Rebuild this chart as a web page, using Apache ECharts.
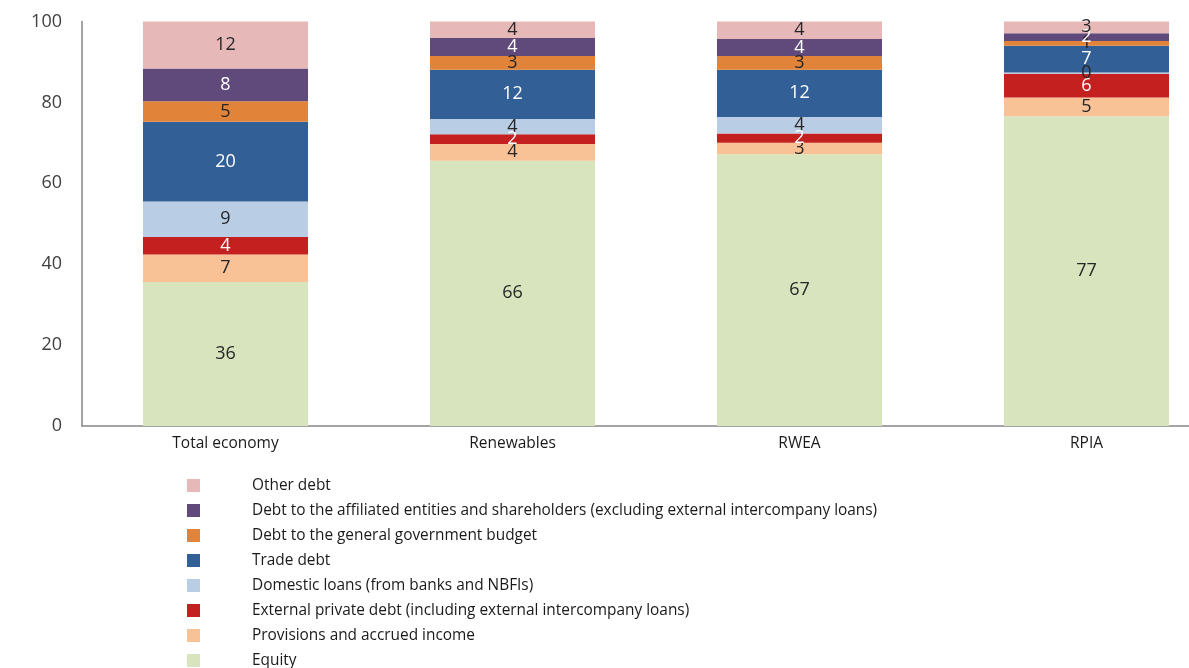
<!DOCTYPE html>
<html lang="en">
<head>
    <meta charset="UTF-8">
    <title>Liability structure</title>
    <script src="https://cdn.jsdelivr.net/npm/echarts@6/dist/echarts.min.js"></script>
    <style>
        html, body { margin: 0; padding: 0; overflow: hidden; background: #fff; }
    </style>
</head>
<body>
    <div id="main" style="width: 1240px;height: 668px"></div>
    <script type="application/javascript">
        // categories
        var categories = ['Total economy', 'Renewables', 'RWEA', 'RPIA'];

        // shares, % (stack order from bottom to top)
        var equity     = [35.6, 65.6, 67.2, 76.6];
        var provisions = [6.8, 4.1, 2.8, 4.6];
        var external   = [4.3, 2.4, 2.3, 5.9];
        var domestic   = [8.8, 3.8, 4.1, 0.3];
        var trade      = [19.7, 12.2, 11.7, 6.6];
        var govBudget  = [5.1, 3.4, 3.4, 1.2];
        var affiliated = [8.1, 4.4, 4.2, 1.9];
        var otherDebt  = [11.6, 4.1, 4.3, 2.9];

        var yTicks = [0, 20, 40, 60, 80, 100];

        var font = '"Open Sans", sans-serif';

        function mk(name, data, color, labelColor) {
            return {
                name: name,
                type: 'bar',
                stack: 'all',
                barWidth: '57.5%',
                data: data,
                itemStyle: { color: color },
                label: {
                    show: true,
                    position: 'inside',
                    color: labelColor,
                    fontSize: 18,
                    fontFamily: font,
                    formatter: function (p) { return Math.round(p.value); }
                }
            };
        }

        var series = [
            mk('Equity', equity, '#d7e4bd', '#262626'),
            mk('Provisions and accrued income', provisions, '#f9c196', '#262626'),
            mk('External private debt (including external intercompany loans)', external, '#c3201f', '#ffffff'),
            mk('Domestic loans (from banks and NBFIs)', domestic, '#b9cde5', '#262626'),
            mk('Trade debt', trade, '#325f95', '#ffffff'),
            mk('Debt to the general government budget', govBudget, '#e1843a', '#262626'),
            mk('Debt to the affiliated entities and shareholders (excluding external intercompany loans)', affiliated, '#604a7b', '#ffffff'),
            mk('Other debt', otherDebt, '#e6b9b8', '#262626')
        ];

        var legendNames = series.map(function (s) { return s.name; }).reverse();

        var myChart = echarts.init(document.getElementById("main"));
        var option = {
            animation: false,
            legend: {
                orient: 'vertical',
                left: 187,
                top: 478,
                padding: 0,
                data: legendNames,
                icon: 'rect',
                itemWidth: 13,
                itemHeight: 13,
                itemGap: 10,
                textStyle: {
                    fontSize: 15.4,
                    lineHeight: 15,
                    fontFamily: font,
                    color: '#1a1a1a',
                    padding: [0, 0, 0, 47]
                }
            },
            grid: {
                left: 82,
                right: 10,
                top: 21.5,
                bottom: 242
            },
            xAxis: {
                type: 'category',
                data: categories,
                axisLine: { lineStyle: { color: '#868686', width: 1.5 } },
                axisTick: { show: false },
                axisLabel: { fontSize: 15.5, fontFamily: font, color: '#1a1a1a', margin: 10 }
            },
            yAxis: {
                type: 'value',
                min: yTicks[0],
                max: yTicks[yTicks.length - 1],
                interval: 20,
                axisLine: { show: true, lineStyle: { color: '#868686', width: 1.5 } },
                axisTick: { show: false },
                splitLine: { show: false },
                axisLabel: { fontSize: 18, fontFamily: font, color: '#404040', margin: 20 }
            },
            series: series
        };
        myChart.setOption(option, true);
    </script>
</body>
</html>
